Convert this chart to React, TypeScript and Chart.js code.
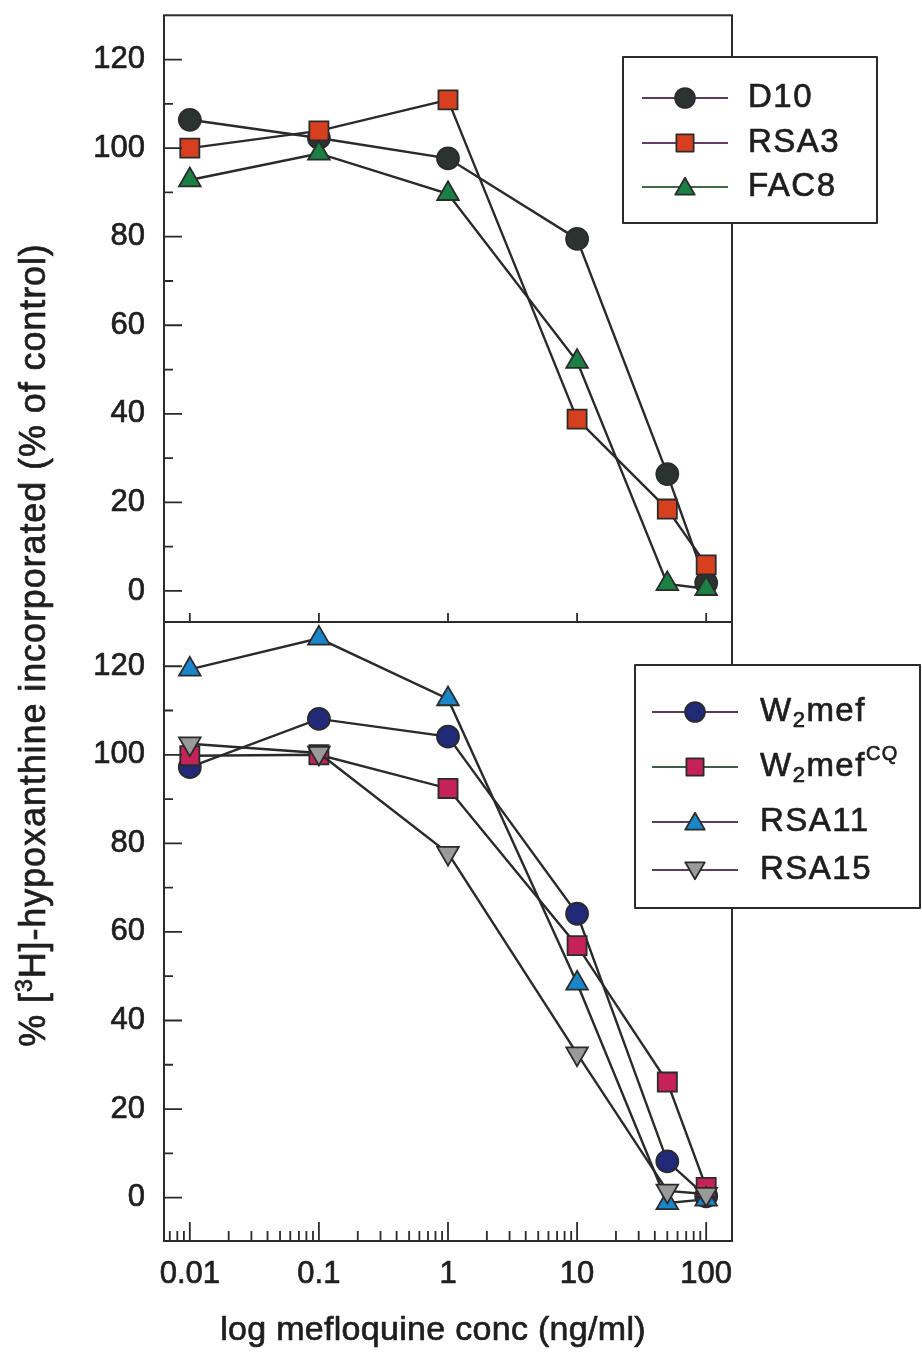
import React, { useEffect, useRef } from 'react';
import { Chart, registerables } from 'chart.js';

Chart.register(...registerables);

// ---- data ----
const concentrations = [0.01, 0.1, 1, 10, 50, 100];

const topLabels = ['D10', 'RSA3', 'FAC8'];
const d10 = [106.4, 102.3, 97.7, 79.5, 26.4, 1.8];
const rsa3 = [100, 103.9, 110.9, 38.8, 18.5, 5.9];
const fac8 = [92.8, 98.8, 89.7, 51.8, 1.6, 0.5];

const bottomLabels = ['W2mef', 'W2mefCQ', 'RSA11', 'RSA15'];
const w2mef = [97.2, 108.1, 104.1, 64.1, 8.2, 0.3];
const w2mefCQ = [99.8, 100, 92.4, 56.9, 26.1, 2.3];
const rsa11 = [119.3, 126.3, 112.6, 48.4, -1.2, -0.4];
const rsa15 = [102.5, 100.4, 77.8, 32.5, 1.5, 0.8];

const xTickLabels = [0.01, 0.1, 1, 10, 100];
const yTickLabels = [0, 20, 40, 60, 80, 100, 120];
const yMinorTicks = [10, 30, 50, 70, 90, 110];

const topColors = ['#2b3330', '#d6401f', '#1c7f43'];
const topStyles = ['circle', 'rect', 'triangle'];
const topLegendLineColors = ['#5a3d5a', '#6a3a6a', '#3d6a4d'];
const bottomColors = ['#202a78', '#c5225a', '#1a86c9', '#9a9a9a'];
const bottomStyles = ['circle', 'rect', 'triangle', 'triangleDown'];
const bottomLegendLineColors = ['#5a3d5a', '#3d5f4a', '#5a3d5a', '#5a3d5a'];

const X_MIN = Math.pow(10, -2.2);
const X_MAX = Math.pow(10, 2.2);

const FONT = '"Liberation Sans", Arial, Helvetica, sans-serif';
const INK = '#1e1e1e';
const LINE = '#2a2a2a';
const TEXT_STROKE = 0.7;

const radii: Record<string, number> = { circle: 11, rect: 13.5, triangle: 12.5, triangleDown: 12.5 };

function drawMarker(ctx: CanvasRenderingContext2D, style: string, x: number, y: number, r: number, fill: string) {
  ctx.save();
  ctx.beginPath();
  if (style === 'circle') {
    ctx.arc(x, y, r, 0, Math.PI * 2);
  } else if (style === 'rect') {
    const s = r * Math.SQRT1_2;
    ctx.rect(x - s, y - s, 2 * s, 2 * s);
  } else {
    let a = style === 'triangleDown' ? Math.PI : 0;
    for (let i = 0; i < 3; i++) {
      const px = x + Math.sin(a) * r;
      const py = y - Math.cos(a) * r;
      if (i === 0) ctx.moveTo(px, py);
      else ctx.lineTo(px, py);
      a += (2 * Math.PI) / 3;
    }
    ctx.closePath();
  }
  ctx.fillStyle = fill;
  ctx.fill();
  ctx.lineWidth = 1.8;
  ctx.strokeStyle = '#2b2b2b';
  ctx.stroke();
  ctx.restore();
}

type Seg = { t: string; size: number; dy: number };

function drawSegs(
  ctx: CanvasRenderingContext2D,
  segs: Seg[],
  x: number,
  y: number,
  align: 'left' | 'center',
  spacing = 0
) {
  (ctx as any).letterSpacing = `${spacing}px`;
  let total = 0;
  for (const s of segs) {
    ctx.font = `${s.size}px ${FONT}`;
    total += ctx.measureText(s.t).width;
  }
  let cx = align === 'center' ? x - total / 2 : x;
  ctx.textAlign = 'left';
  ctx.strokeStyle = INK;
  ctx.lineWidth = TEXT_STROKE;
  ctx.lineJoin = 'round';
  for (const s of segs) {
    ctx.font = `${s.size}px ${FONT}`;
    ctx.fillText(s.t, cx, y + s.dy);
    ctx.strokeText(s.t, cx, y + s.dy);
    cx += ctx.measureText(s.t).width;
  }
  (ctx as any).letterSpacing = '0px';
}

function legendText(label: string): Seg[] {
  if (label === 'W2mef') return [{ t: 'W', size: 33, dy: 0 }, { t: '2', size: 22, dy: 9 }, { t: 'mef', size: 33, dy: 0 }];
  if (label === 'W2mefCQ')
    return [
      { t: 'W', size: 33, dy: 0 },
      { t: '2', size: 22, dy: 9 },
      { t: 'mef', size: 33, dy: 0 },
      { t: 'CQ', size: 20, dy: -13 },
    ];
  return [{ t: label, size: 33, dy: 0 }];
}

const axesPlugin = {
  id: 'axesPlugin',
  afterDatasetsDraw(chart: any) {
    const ctx: CanvasRenderingContext2D = chart.ctx;
    const { left, right, top, bottom } = chart.chartArea;
    const x = chart.scales.x;
    const yTop = chart.scales.yTop;
    const yBot = chart.scales.yBot;
    ctx.save();
    ctx.strokeStyle = LINE;
    ctx.lineWidth = 2;
    // frame & divider
    ctx.strokeRect(left, top, right - left, bottom - top);
    ctx.beginPath();
    ctx.moveTo(left, yTop.bottom);
    ctx.lineTo(right, yTop.bottom);
    ctx.stroke();

    ctx.lineWidth = 1.8;
    ctx.beginPath();
    // y ticks
    for (const sc of [yTop, yBot]) {
      for (const v of yTickLabels) {
        const p = sc.getPixelForValue(v);
        ctx.moveTo(left, p);
        ctx.lineTo(left + 18, p);
      }
      for (const v of yMinorTicks) {
        const p = sc.getPixelForValue(v);
        ctx.moveTo(left, p);
        ctx.lineTo(left + 9, p);
      }
    }
    // x ticks bottom
    for (const v of xTickLabels) {
      const p = x.getPixelForValue(v);
      ctx.moveTo(p, bottom);
      ctx.lineTo(p, bottom - 19);
      // divider ticks (top panel)
      ctx.moveTo(p, yTop.bottom);
      ctx.lineTo(p, yTop.bottom - 9);
    }
    for (let e = -3; e <= 2; e++) {
      for (let k = 2; k <= 9; k++) {
        const v = k * Math.pow(10, e);
        if (v <= X_MIN || v >= X_MAX) continue;
        const p = x.getPixelForValue(v);
        ctx.moveTo(p, bottom);
        ctx.lineTo(p, bottom - 10);
      }
    }
    ctx.stroke();
    ctx.restore();
  },
  afterDraw(chart: any) {
    const ctx: CanvasRenderingContext2D = chart.ctx;
    ctx.save();
    ctx.fillStyle = INK;
    ctx.textBaseline = 'alphabetic';
    // x title
    drawSegs(ctx, [{ t: 'log mefloquine conc (ng/ml)', size: 34, dy: 0 }], 433, 1340, 'center', 0.3);
    // y title (rotated)
    ctx.save();
    ctx.translate(45, 645);
    ctx.rotate(-Math.PI / 2);
    drawSegs(
      ctx,
      [
        { t: '% [', size: 36, dy: 0 },
        { t: '3', size: 23, dy: -13 },
        { t: 'H]-hypoxanthine incorporated (% of control)', size: 36, dy: 0 },
      ],
      0,
      0,
      'center',
      0.9
    );
    ctx.restore();

    // legends
    const drawLegend = (
      box: [number, number, number, number],
      labels: string[],
      colors: string[],
      styles: string[],
      lineColors: string[],
      rows: number[],
      lineX: [number, number],
      textX: number
    ) => {
      ctx.save();
      ctx.fillStyle = '#ffffff';
      ctx.fillRect(box[0], box[1], box[2] - box[0], box[3] - box[1]);
      ctx.strokeStyle = LINE;
      ctx.lineWidth = 2;
      ctx.strokeRect(box[0], box[1], box[2] - box[0], box[3] - box[1]);
      labels.forEach((lab, i) => {
        const y = rows[i];
        ctx.strokeStyle = lineColors[i];
        ctx.lineWidth = 2;
        ctx.beginPath();
        ctx.moveTo(lineX[0], y);
        ctx.lineTo(lineX[1], y);
        ctx.stroke();
        const mx = (lineX[0] + lineX[1]) / 2;
        const r = radii[styles[i]] * 0.9;
        const my = styles[i] === 'triangle' ? y + 2 : styles[i] === 'triangleDown' ? y - 2 : y;
        drawMarker(ctx, styles[i], mx, my, r, colors[i]);
        ctx.fillStyle = INK;
        ctx.textBaseline = 'middle';
        drawSegs(ctx, legendText(lab), textX, y, 'left', 1.5);
      });
      ctx.restore();
    };
    drawLegend([623, 57, 877, 223], topLabels, topColors, topStyles, topLegendLineColors, [98, 143, 187], [642, 728], 748);
    drawLegend(
      [635, 665, 920, 908],
      bottomLabels,
      bottomColors,
      bottomStyles,
      bottomLegendLineColors,
      [712, 767, 822, 870],
      [652, 738],
      760
    );
    ctx.restore();
  },
};

function makeDataset(label: string, values: number[], yAxisID: string, style: string, fill: string, order: number) {
  return {
    label,
    yAxisID,
    order,
    data: concentrations.map((c, i) => ({ x: c, y: values[i] })),
    borderColor: LINE,
    borderWidth: 2.4,
    pointStyle: style === 'triangleDown' ? 'triangle' : style,
    pointRotation: style === 'triangleDown' ? 180 : 0,
    pointRadius: radii[style],
    pointBackgroundColor: fill,
    pointBorderColor: '#2b2b2b',
    pointBorderWidth: 1.8,
    fill: false,
    tension: 0,
  };
}

export default function App() {
  const ref = useRef<HTMLCanvasElement>(null);
  useEffect(() => {
    const canvas = ref.current!;
    const topSeries = [d10, rsa3, fac8];
    const bottomSeries = [w2mef, w2mefCQ, rsa11, rsa15];
    const datasets: any[] = [];
    // later series are drawn on top of earlier ones
    topSeries.forEach((vals, i) =>
      datasets.push(makeDataset(topLabels[i], vals, 'yTop', topStyles[i], topColors[i], 10 - i))
    );
    bottomSeries.forEach((vals, i) =>
      datasets.push(makeDataset(bottomLabels[i], vals, 'yBot', bottomStyles[i], bottomColors[i], 10 - i))
    );
    const tickFont = { family: FONT, size: 31 };
    const tickCommon = {
      font: tickFont,
      color: INK,
      textStrokeColor: INK,
      textStrokeWidth: TEXT_STROKE,
      callback: (v: any) => String(v),
    };
    const yCommon = (min: number, weight: number) => ({
      type: 'linear',
      min,
      max: 130,
      position: 'left',
      stack: 'panels',
      stackWeight: weight,
      grid: { display: false, drawTicks: false },
      border: { display: false },
      afterBuildTicks: (s: any) => {
        s.ticks = yTickLabels.map((v) => ({ value: v }));
      },
      afterFit: (s: any) => {
        s.width = 164;
        s.paddingTop = 0;
        s.paddingBottom = 0;
      },
      ticks: { padding: 19, ...tickCommon },
    });
    const chart = new Chart(canvas, {
      type: 'line',
      data: { datasets },
      options: {
        responsive: false,
        animation: false,
        layout: { padding: { top: 13, right: 190, left: 0, bottom: 0 } },
        plugins: { legend: { display: false }, tooltip: { enabled: false } },
        scales: {
          x: {
            type: 'logarithmic',
            min: X_MIN,
            max: X_MAX,
            position: 'bottom',
            grid: { display: false, drawTicks: false },
            border: { display: false },
            afterBuildTicks: (s: any) => {
              s.ticks = xTickLabels.map((v) => ({ value: v }));
            },
            afterFit: (s: any) => {
              s.height = 120;
              s.paddingLeft = 0;
              s.paddingRight = 0;
            },
            ticks: {
              autoSkip: false,
              maxRotation: 0,
              minRotation: 0,
              padding: 15,
              ...tickCommon,
            },
          },
          // bottom panel defined first so the top panel is stacked above it
          yBot: yCommon(-9.8, 139.8),
          yTop: yCommon(-7, 137),
        } as any,
      },
      plugins: [axesPlugin],
    } as any);
    return () => chart.destroy();
  }, []);
  return (
    <div style={{ position: 'absolute', left: 0, top: 0, width: 922, height: 1361, background: '#fff' }}>
      <canvas ref={ref} width={922} height={1361} style={{ display: 'block' }} />
    </div>
  );
}
